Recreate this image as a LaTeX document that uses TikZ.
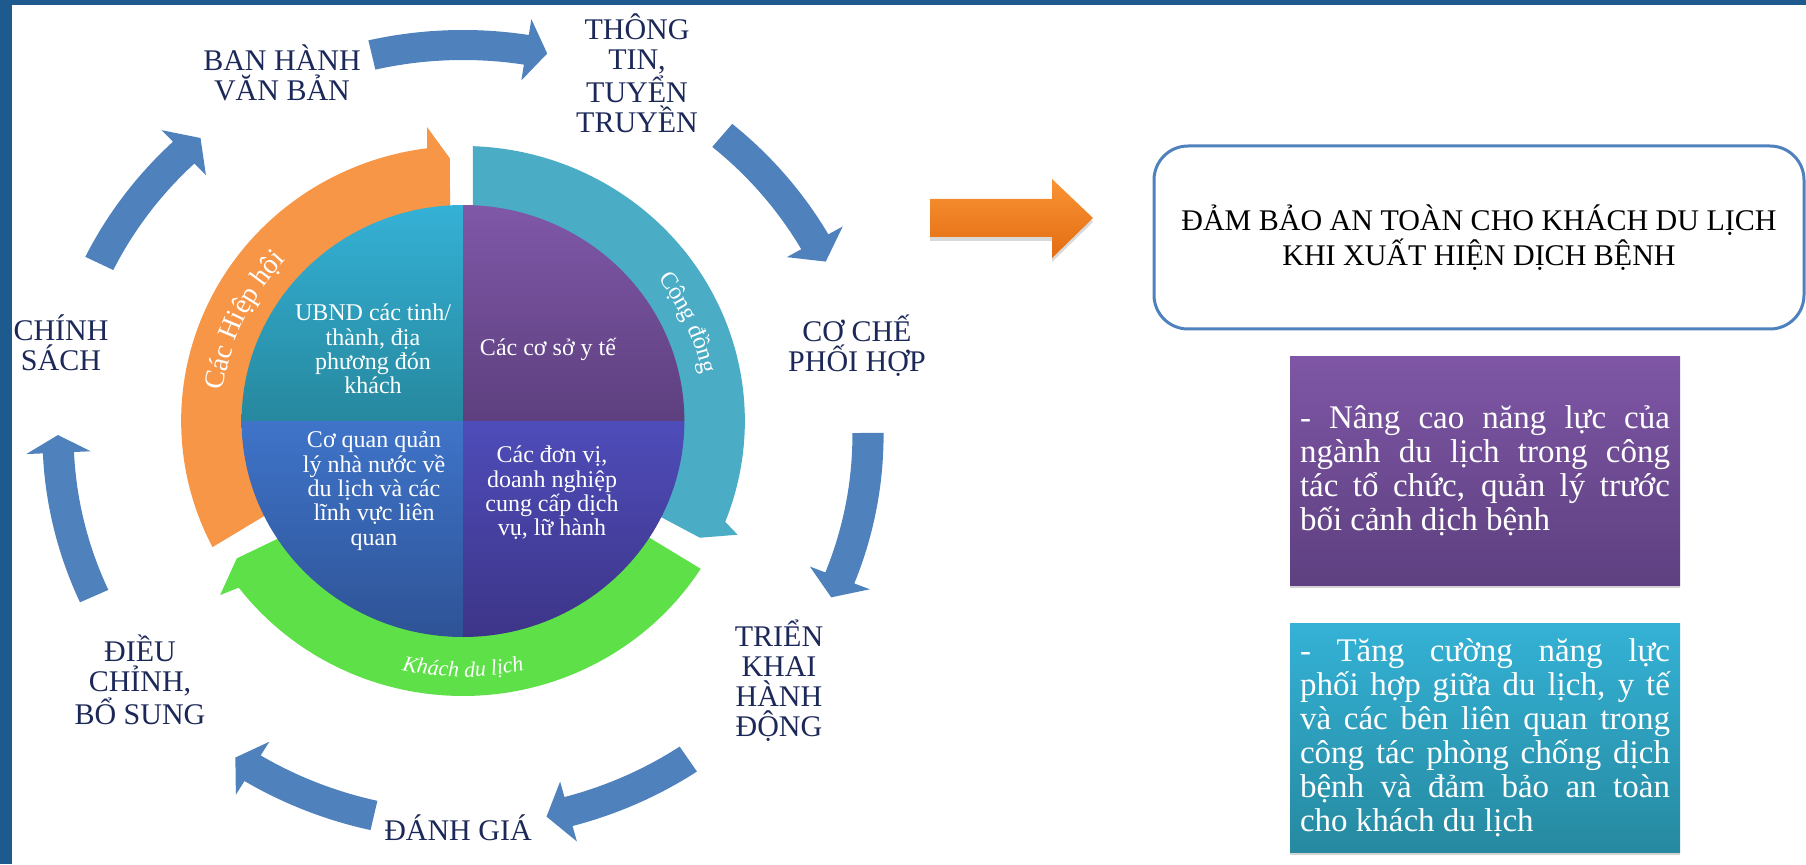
\documentclass[tikz,border=0pt]{standalone}
\usepackage{fontspec}
\setmainfont{Liberation Serif}
\usetikzlibrary{decorations.text,shadows}

\begin{document}
\begin{tikzpicture}[x=0.5pt, y=0.5pt,
  cyclelabel/.style={text=navytext, align=center, inner sep=0pt, font=\fontsize{15}{15}\selectfont},
  quadtext/.style={text=white, align=center, inner sep=0pt, font=\fontsize{12}{12.2}\selectfont},
  ringarrow/.style={fill=ringblue},
  infobox/.style={text=white, text width=185pt, align=justify, inner sep=5pt,
    minimum height=114pt, font=\fontsize{16.5}{17}\selectfont,
    drop shadow={opacity=.35, shadow xshift=0pt, shadow yshift=-1.5pt}},
  bandtext/.style={decorate, decoration={text along path, text align=center, text={#1}}}]
\definecolor{frameblue}{RGB}{31,90,143}
\definecolor{ringblue}{RGB}{79,129,189}
\definecolor{navytext}{RGB}{28,40,88}
\definecolor{bandorange}{RGB}{247,150,70}
\definecolor{bandcyan}{RGB}{75,172,198}
\definecolor{bandgreen}{RGB}{94,224,72}
\definecolor{arrowtop}{RGB}{249,148,52}
\definecolor{arrowbot}{RGB}{227,108,18}

\useasboundingbox (0,0) rectangle (1806,864);
\fill[frameblue] (0,859) rectangle (1806,864);
\fill[frameblue] (0,0) rectangle (12,864);

\begin{scope}[shift={(463,429)}, xscale=1.0385]
\foreach \ta/\tb/\tc in {153.9/133.6/130.4, 103/81/78, 50.2/29.7/26.4, 0.3/-21.5/-24.6,
    -56.2/-74.9/-78.1, -102.7/-121.3/-124.2, -155.6/-177.4/-180}
  \fill[ringarrow] (\ta:405) arc[start angle=\ta, end angle=\tb, radius=405]
    -- (\tb:421) -- (\tc:390) -- (\tb:359) -- (\tb:375)
    arc[start angle=\tb, end angle=\ta, radius=375] -- cycle;
\end{scope}

\begin{scope}[shift={(463,443)}, xscale=1.025]
\fill[bandorange] (206:212) -- (207.3:275) arc[start angle=207.3, end angle=97.3, radius=275]
  -- (96.8:296) -- (92.8:263) -- (93.4:212) arc[start angle=93.4, end angle=206, radius=212] -- cycle;
\fill[bandcyan] (87.4:212) -- (88:275) arc[start angle=88, end angle=-21.5, radius=275]
  -- (-23:291) -- (-26.8:259) -- (-26.4:212) arc[start angle=-26.4, end angle=87.4, radius=212] -- cycle;
\fill[bandgreen] (-32.7:212) -- (-32.5:275) arc[start angle=-32.5, end angle=-142.7, radius=275]
  -- (-143.7:294) -- (-148.1:260) -- (-146.8:212) arc[start angle=-146.8, end angle=-32.7, radius=212] -- cycle;

\shade[top color={rgb,255:red,53;green,177;blue,214}, bottom color={rgb,255:red,38;green,136;blue,158}]
  (0,0) -- (90:216) arc[start angle=90, end angle=180, radius=216] -- cycle;
\shade[top color={rgb,255:red,127;green,88;blue,168}, bottom color={rgb,255:red,93;green,63;blue,126}]
  (0,0) -- (0:216) arc[start angle=0, end angle=90, radius=216] -- cycle;
\shade[top color={rgb,255:red,63;green,116;blue,201}, bottom color={rgb,255:red,46;green,83;blue,150}]
  (0,0) -- (180:216) arc[start angle=180, end angle=270, radius=216] -- cycle;
\shade[top color={rgb,255:red,78;green,76;blue,185}, bottom color={rgb,255:red,61;green,53;blue,136}]
  (0,0) -- (270:216) arc[start angle=270, end angle=360, radius=216] -- cycle;

\path[bandtext={|\fontsize{14}{14}\selectfont\color{white}|Các Hiệp hội}]
  (200:236) arc[start angle=200, end angle=110, radius=236];
\path[bandtext={|\fontsize{12}{12}\selectfont\color{white}|Cộng đồng}]
  (60:238) arc[start angle=60, end angle=-12, radius=238];
\path[bandtext={|\fontsize{11}{11}\selectfont\itshape\color{white}|Khách du lịch}]
  (230:256) arc[start angle=230, end angle=310, radius=256];
\end{scope}

\node[quadtext] (ubnd) at (373,515) {UBND các tinh/\\thành, địa\\phương đón\\khách};
\node[quadtext] (yte) at (548,515) {Các cơ sở y tế};
\node[quadtext] (qlnn) at (374,373) {Cơ quan quản\\lý nhà nước về\\du lịch và các\\lĩnh vực liên\\quan};
\node[quadtext] (donvi) at (552,371) {Các đơn vị,\\doanh nghiệp\\cung cấp dịch\\vụ, lữ hành};

\node[cyclelabel] (banhanh) at (282,791) {BAN HÀNH\\VĂN BẢN};
\node[cyclelabel] (thongtin) at (637,791) {THÔNG\\TIN,\\TUYỂN\\TRUYỀN};
\node[cyclelabel] (coche) at (857,518) {CƠ CHẾ\\PHỐI HỢP};
\node[cyclelabel] (trienkhai) at (779,183) {TRIỂN\\KHAI\\HÀNH\\ĐỘNG};
\node[cyclelabel] (danhgia) at (458,36) {ĐÁNH GIÁ};
\node[cyclelabel] (dieuchinh) at (140,184) {ĐIỀU\\CHỈNH,\\BỔ SUNG};
\node[cyclelabel] (chinhsach) at (61,521) {CHÍNH\\SÁCH};

\shade[top color=arrowtop, bottom color=arrowbot,
  drop shadow={opacity=.3, shadow xshift=0pt, shadow yshift=-2pt}]
  (930,665) -- (1052,665) -- (1052,685) -- (1093,646) -- (1052,606) -- (1052,627) -- (930,627) -- cycle;

\node[draw=ringblue, line width=1.5pt, rounded corners=17pt, fill=white,
  minimum width=325pt, minimum height=91.5pt, align=center, text=black,
  font=\fontsize{15}{17.5}\selectfont] (goal) at (1479,626.5)
  {ĐẢM BẢO AN TOÀN CHO KHÁCH DU LỊCH\\KHI XUẤT HIỆN DỊCH BỆNH};

\node[infobox, top color={rgb,255:red,126;green,86;blue,165}, bottom color={rgb,255:red,94;green,64;blue,128}]
  (nangcao) at (1485,393)
  {- Nâng cao năng lực của\linebreak ngành du lịch trong công\linebreak tác tổ chức, quản lý trước\linebreak bối cảnh dịch bệnh};
\node[infobox, minimum height=114.5pt, top color={rgb,255:red,52;green,178;blue,214}, bottom color={rgb,255:red,38;green,137;blue,160}]
  (tangcuong) at (1485,126.5)
  {- Tăng cường năng lực\linebreak phối hợp giữa du lịch, y tế\linebreak và các bên liên quan trong\linebreak công tác phòng chống dịch\linebreak bệnh và đảm bảo an toàn\linebreak cho khách du lịch};
\end{tikzpicture}
\end{document}
